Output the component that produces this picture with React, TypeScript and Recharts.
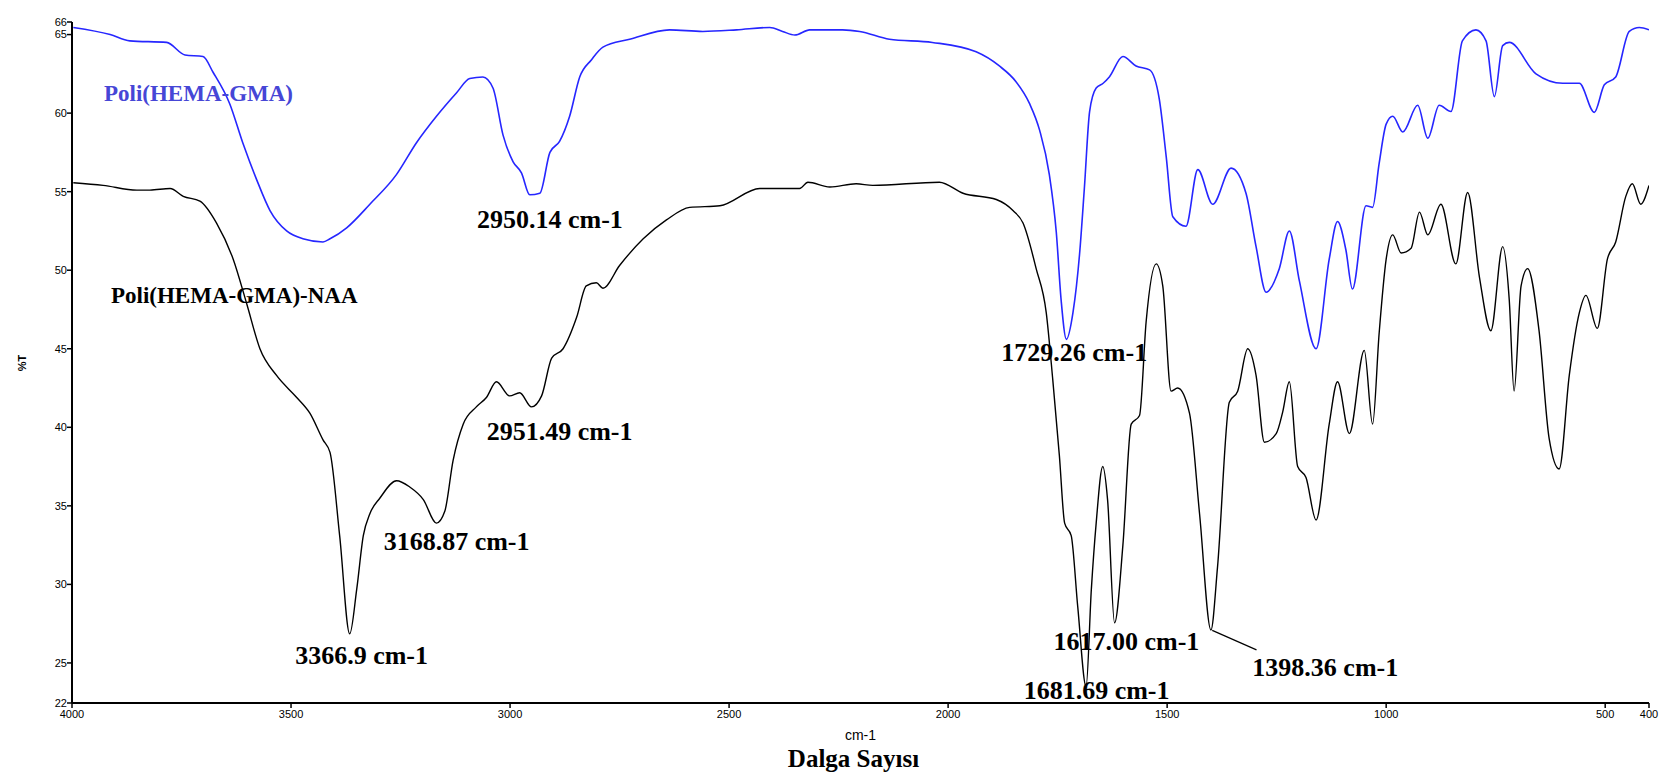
import { Label, Line, LineChart, ReferenceDot, ReferenceLine, XAxis, YAxis } from "recharts";

// Poli(HEMA-GMA) spectrum (blue)
const hemaGmaWavenumber = [
  3997, 3913, 3868, 3784, 3742, 3701, 3678, 3640, 3610, 3579, 3548, 3510, 3473, 3427, 3411, 3373, 3320,
  3259, 3214, 3168, 3122, 3092, 3062, 3039, 3016, 2993, 2974, 2955, 2932, 2909, 2887, 2864, 2841, 2814,
  2788, 2727, 2636, 2560, 2483, 2407, 2378, 2350, 2316, 2241, 2202, 2134, 2036, 1936, 1883, 1845, 1814,
  1791, 1769, 1753, 1742, 1730, 1715, 1700, 1689, 1677, 1662, 1646, 1632, 1601, 1571, 1540, 1518, 1502,
  1487, 1457, 1430, 1396, 1354, 1320, 1297, 1274, 1244, 1221, 1198, 1160, 1130, 1111, 1092, 1077, 1046,
  1031, 1016, 1000, 985, 962, 928, 905, 879, 852, 826, 795, 772, 753, 734, 719, 658, 597, 559, 525, 502,
  476, 445, 422, 400
];
const hemaGmaT = [
  65.45, 65.0, 64.6, 64.5, 63.7, 63.6, 62.6, 60.6, 58.1, 55.8, 53.8, 52.5, 52.0, 51.8, 52.0, 52.7, 54.2,
  56.1, 58.1, 59.8, 61.3, 62.2, 62.3, 61.6, 58.6, 56.9, 56.2, 54.8, 54.9, 57.5, 58.2, 59.8, 62.3, 63.4,
  64.2, 64.7, 65.3, 65.2, 65.3, 65.45, 65.2, 64.97, 65.3, 65.3, 65.2, 64.7, 64.5, 63.9, 63.0, 62.0, 60.6,
  58.9, 56.1, 52.4, 48.1, 45.6, 47.3, 51.0, 55.2, 60.1, 61.6, 61.9, 62.3, 63.6, 63.0, 62.75, 60.9, 57.2,
  53.4, 52.8, 56.4, 54.2, 56.5, 54.9, 51.5, 48.6, 50.1, 52.5, 49.3, 45.0, 50.7, 53.1, 51.3, 48.8, 54.1,
  54.0, 56.8, 59.3, 59.8, 58.8, 60.5, 58.4, 60.5, 60.1, 64.6, 65.3, 64.6, 61.05, 64.3, 64.5, 62.5, 61.9,
  61.9, 60.05, 61.8, 62.3, 65.2, 65.45, 65.3
];

// Poli(HEMA-GMA)-NAA spectrum (black)
const naaWavenumber = [
  3997, 3929, 3852, 3822, 3776, 3746, 3708, 3670, 3632, 3601, 3571, 3533, 3487, 3457, 3427, 3411, 3389,
  3366, 3350, 3335, 3320, 3297, 3259, 3229, 3198, 3168, 3149, 3130, 3107, 3077, 3054, 3031, 3001, 2978,
  2951, 2928, 2905, 2879, 2848, 2826, 2803, 2788, 2750, 2696, 2643, 2590, 2521, 2430, 2339, 2320, 2270,
  2210, 2172, 2020, 1966, 1890, 1852, 1829, 1799, 1776, 1761, 1746, 1734, 1719, 1704, 1685, 1673, 1662,
  1647, 1636, 1620, 1601, 1582, 1563, 1548, 1525, 1510, 1491, 1476, 1449, 1426, 1400, 1385, 1358, 1339,
  1316, 1297, 1278, 1251, 1236, 1221, 1202, 1183, 1160, 1130, 1111, 1084, 1050, 1031, 1016, 1000, 985,
  966, 943, 924, 905, 875, 841, 814, 787, 761, 734, 719, 708, 692, 677, 651, 628, 605, 582, 559, 544,
  518, 495, 476, 453, 438, 419, 400
];
const naaT = [
  55.57, 55.4, 55.1, 55.1, 55.2, 54.7, 54.4, 53.0, 50.7, 47.85, 45.0, 43.3, 41.9, 40.9, 39.2, 38.4, 33.1,
  26.85, 29.7, 33.1, 34.5, 35.5, 36.6, 36.2, 35.4, 33.9, 34.65, 37.9, 40.2, 41.3, 41.9, 42.9, 42.0, 42.2,
  41.3, 42.0, 44.4, 45.0, 47.0, 49.0, 49.2, 48.85, 50.3, 52.0, 53.2, 54.0, 54.1, 55.2, 55.2, 55.6, 55.3,
  55.5, 55.4, 55.6, 54.9, 54.5, 53.8, 53.0, 50.1, 47.3, 43.0, 38.2, 33.9, 33.1, 28.55, 23.5, 29.7, 33.9,
  37.5, 35.4, 27.55, 32.5, 40.2, 40.75, 46.7, 50.4, 49.0, 42.3, 42.5, 40.9, 34.5, 27.1, 31.1, 41.6, 42.3,
  45.0, 43.3, 39.05, 39.6, 41.0, 42.9, 37.5, 36.8, 34.1, 40.2, 42.9, 39.6, 44.9, 40.2, 46.0, 50.7, 52.25,
  51.1, 51.4, 53.7, 52.25, 54.2, 50.4, 54.95, 49.55, 46.15, 51.5, 48.1, 42.3, 49.0, 50.1, 46.15, 39.3, 37.35,
  43.3, 47.3, 48.4, 46.3, 50.7, 51.8, 54.7, 55.5, 54.2, 55.4
];

const xTicks = [4000, 3500, 3000, 2500, 2000, 1500, 1000, 500, 400];
const yTicks = [22.45, 25, 30, 35, 40, 45, 50, 55, 60, 65, 65.8];

// text placed at (wavenumber, %T)
const seriesNames = [
  { text: "Poli(HEMA-GMA)", wn: 3927, t: 61.24, color: "#4646d6" },
  { text: "Poli(HEMA-GMA)-NAA", wn: 3911, t: 48.37, color: "#000000" }
];
const peakLabels = [
  { text: "2950.14 cm-1", wn: 2909, t: 53.21 },
  { text: "1729.26 cm-1", wn: 1712, t: 44.74 },
  { text: "2951.49 cm-1", wn: 2887, t: 39.71 },
  { text: "3168.87 cm-1", wn: 3122, t: 32.76 },
  { text: "3366.9 cm-1", wn: 3339, t: 25.5 },
  { text: "1617.00 cm-1", wn: 1593, t: 26.39 },
  { text: "1398.36 cm-1", wn: 1139, t: 24.74 },
  { text: "1681.69 cm-1", wn: 1661, t: 23.27 }
];
const leader = [
  { x: 1397, y: 27.07 },
  { x: 1296, y: 25.83 }
];

const hemaGmaData = hemaGmaWavenumber.map((wn, i) => ({ wn, t: hemaGmaT[i] }));
const naaData = naaWavenumber.map((wn, i) => ({ wn, t: naaT[i] }));

const serif = "'Liberation Serif', 'Times New Roman', serif";
const sans = "'Liberation Sans', Arial, sans-serif";
const tickStyle = { fontSize: 11, fill: "#000", fontFamily: sans };

export default function App() {
  return (
    <div style={{ position: "absolute", left: 0, top: 0, width: 1664, height: 777, background: "#fff" }}>
      <LineChart width={1664} height={777} margin={{ top: 22, right: 15, bottom: 0, left: 0 }}>
        <XAxis
          type="number"
          dataKey="wn"
          domain={[400, 4000]}
          reversed
          allowDataOverflow
          ticks={xTicks}
          interval={0}
          height={74}
          tick={tickStyle}
          tickSize={5}
          tickMargin={2}
          tickLine={{ stroke: "#000", strokeWidth: 1.5 }}
          axisLine={{ stroke: "#000", strokeWidth: 2 }}
        >
          <Label
            content={(props: any) => {
              const vb = props.viewBox || { x: 72, y: 703, width: 1577 };
              const cx = vb.x + vb.width / 2;
              return (
                <g>
                  <text x={cx} y={vb.y + 32} textAnchor="middle" dominantBaseline="central" fontSize={14} fontFamily={sans} fill="#000">
                    cm-1
                  </text>
                  <text x={cx - 7} y={vb.y + 55} textAnchor="middle" dominantBaseline="central" fontSize={25} fontWeight="bold" fontFamily={serif} fill="#000">
                    Dalga Sayısı
                  </text>
                </g>
              );
            }}
          />
        </XAxis>
        <YAxis
          type="number"
          domain={[22.45, 65.8]}
          allowDataOverflow
          ticks={yTicks}
          interval={0}
          width={72}
          tickFormatter={(v: number) => String(Math.round(v))}
          tick={tickStyle}
          tickSize={5}
          tickMargin={0}
          tickLine={{ stroke: "#000", strokeWidth: 1.5 }}
          axisLine={{ stroke: "#000", strokeWidth: 2 }}
        >
          <Label
            content={() => (
              <text x={22} y={363} textAnchor="middle" dominantBaseline="central" fontSize={11} fontWeight="bold" fontFamily={sans} fill="#000" transform="rotate(-90 22 363)">
                %T
              </text>
            )}
          />
        </YAxis>
        <Line data={hemaGmaData} dataKey="t" type="monotone" stroke="#2626ff" strokeWidth={1.6} dot={false} activeDot={false} isAnimationActive={false} />
        <Line data={naaData} dataKey="t" type="monotone" stroke="#000" strokeWidth={1.4} dot={false} activeDot={false} isAnimationActive={false} />
        <ReferenceLine segment={leader} stroke="#000" strokeWidth={1.2} ifOverflow="visible" />
        {seriesNames.map((s) => (
          <ReferenceDot
            key={s.text}
            x={s.wn}
            y={s.t}
            r={0}
            ifOverflow="visible"
            shape={(p: any) => (
              <text x={p.cx} y={p.cy} textAnchor="start" dominantBaseline="central" fontSize={23} fontWeight="bold" fontFamily={serif} fill={s.color}>
                {s.text}
              </text>
            )}
          />
        ))}
        {peakLabels.map((s) => (
          <ReferenceDot
            key={s.text}
            x={s.wn}
            y={s.t}
            r={0}
            ifOverflow="visible"
            shape={(p: any) => (
              <text x={p.cx} y={p.cy} textAnchor="middle" dominantBaseline="central" fontSize={26} fontWeight="bold" fontFamily={serif} fill="#000">
                {s.text}
              </text>
            )}
          />
        ))}
      </LineChart>
    </div>
  );
}
